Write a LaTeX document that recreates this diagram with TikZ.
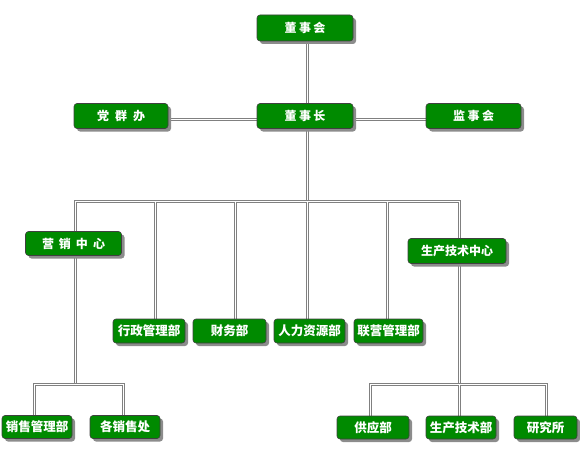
\documentclass[tikz,border=0pt]{standalone}
\usepackage{fontspec}
\newfontfamily\cjk{Noto Sans CJK SC}
\usetikzlibrary{shadows,backgrounds}
\definecolor{boxgreen}{RGB}{0,138,0}
\definecolor{linegray}{RGB}{128,128,128}
\tikzset{
  orgbox/.style={draw=black!75, line width=0.6pt, fill=boxgreen, rounded corners=3pt,
    text=white, font=\cjk\bfseries\fontsize{12}{12}\selectfont, inner sep=0pt,
    drop shadow={shadow xshift=3pt, shadow yshift=-3pt, fill=black!45, opacity=1}},
  lowbox/.style={orgbox, font=\cjk\bfseries\fontsize{12.5}{12.5}\selectfont},
  conn/.style={draw=linegray, line width=0.9pt, double=white, double distance=1.5pt}
}
\begin{document}
\begin{tikzpicture}[x=1pt,y=-1pt]
\useasboundingbox (0,0) rectangle (580,468);
% boxes
\node[orgbox, minimum width=96, minimum height=26] (dsh) at (305,28) {董\hspace{2.5pt}事\hspace{2.5pt}会};
\node[orgbox, minimum width=94, minimum height=25] (dqb) at (121,116) {党\hspace{6pt}群\hspace{6pt}办};
\node[orgbox, minimum width=96, minimum height=25] (dsz) at (305,116) {董\hspace{2.5pt}事\hspace{2.5pt}长};
\node[orgbox, minimum width=95, minimum height=25] (jsh) at (473.5,116) {监\hspace{2.5pt}事\hspace{2.5pt}会};
\node[orgbox, minimum width=96, minimum height=24] (yx) at (73.5,243.5) {营\hspace{5pt}销\hspace{5pt}中\hspace{5pt}心};
\node[orgbox, minimum width=98, minimum height=25] (sc) at (457,251) {生产技术中心};
\node[lowbox, minimum width=72, minimum height=24] (xz) at (149,331) {行政管理部};
\node[lowbox, minimum width=73, minimum height=24] (cw) at (229.5,331) {财务部};
\node[lowbox, minimum width=71, minimum height=24] (rl) at (309.5,331) {人力资源部};
\node[lowbox, minimum width=69, minimum height=24] (ly) at (388.5,331) {联营管理部};
\node[lowbox, minimum width=70, minimum height=23] (xs) at (37,427) {销售管理部};
\node[lowbox, minimum width=70, minimum height=23] (gx) at (125,427) {各销售处};
\node[lowbox, minimum width=72, minimum height=23] (gy) at (373,427.5) {供应部};
\node[lowbox, minimum width=70, minimum height=23] (sj) at (461,427.5) {生产技术部};
\node[lowbox, minimum width=63, minimum height=23] (yj) at (545.5,427.5) {研究所};
% junction points
\coordinate (b1) at (75.5,201.5);
\coordinate (b2) at (155.5,201.5);
\coordinate (b3) at (235.5,201.5);
\coordinate (b4) at (307.5,201.5);
\coordinate (b5) at (387.5,201.5);
\coordinate (b6) at (459.5,201.5);
\coordinate (hy) at (0,119.5);
\coordinate (ll) at (34.5,384.5);
\coordinate (lm) at (75.5,384.5);
\coordinate (lr) at (123.5,384.5);
\coordinate (rl0) at (370.5,384.5);
\coordinate (rm) at (459.5,384.5);
\coordinate (rr) at (546.5,384.5);
% connectors (behind the boxes)
\begin{pgfonlayer}{background}
\draw[conn] (dsh.south -| b4) -- (b4);
\draw[conn] (dqb.east |- hy) -- (jsh.west |- hy);
\draw[conn] (lm) -- (b1) -- (b6) -- (rm);
\draw[conn] (b2) -- (b2 |- xz.north);
\draw[conn] (b3) -- (b3 |- cw.north);
\draw[conn] (b4) -- (b4 |- rl.north);
\draw[conn] (b5) -- (b5 |- ly.north);
\draw[conn] (ll |- xs.north) -- (ll) -- (lr) -- (lr |- gx.north);
\draw[conn] (rl0 |- gy.north) -- (rl0) -- (rr) -- (rr |- yj.north);
\draw[conn] (rm) -- (rm |- sj.north);
\end{pgfonlayer}
\end{tikzpicture}
\end{document}
